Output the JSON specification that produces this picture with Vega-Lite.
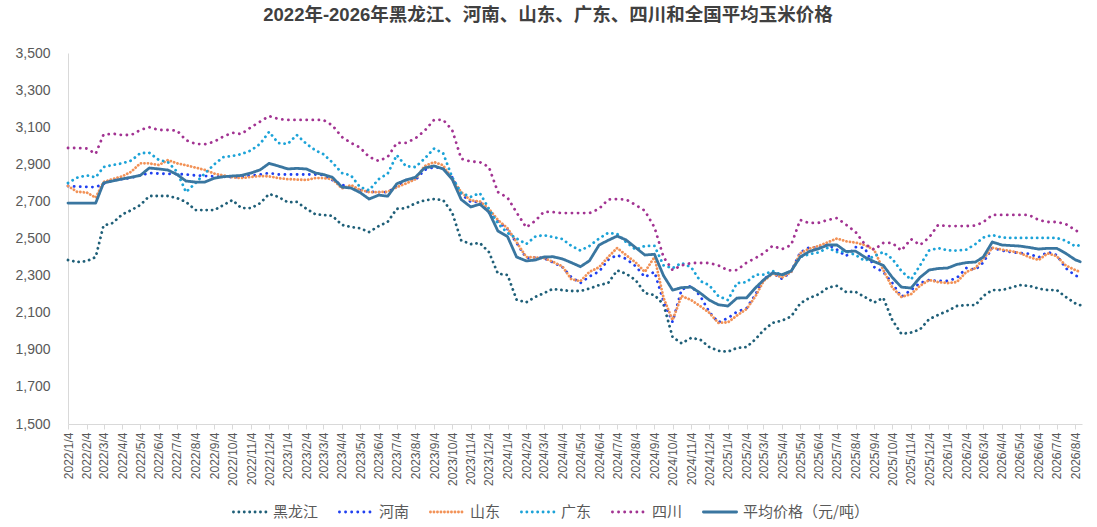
{
  "$schema": "https://vega.github.io/schema/vega-lite/v6.json",
  "autosize": {"type": "none"},
  "padding": {"left": 68, "top": 53, "right": 15, "bottom": 103},
  "width": 1014,
  "height": 371,
  "background": "white",
  "title": {"text": "2022年-2026年黑龙江、河南、山东、广东、四川和全国平均玉米价格", "fontSize": 18.5, "fontWeight": "bold", "color": "#404040", "anchor": "middle", "dx": -27, "offset": 22, "font": "'Liberation Sans', 'Noto Sans CJK SC', sans-serif"},
  "config": {
    "font": "'Liberation Sans', 'Noto Sans CJK SC', sans-serif",
    "view": {"stroke": null},
    "axis": {"grid": false, "domainColor": "#d9d9d9", "tickColor": "#d9d9d9", "labelColor": "#595959", "title": null},
    "legend": {"orient": "none", "legendX": 164, "legendY": 441, "direction": "horizontal", "symbolType": "stroke", "symbolSize": 1100, "labelFontSize": 15, "labelColor": "#595959", "columnPadding": 14, "labelOffset": 5, "title": null, "labelFont": "'Noto Sans CJK SC', sans-serif"}
  },
  "data": {"values": [
    {"d":"2022-01-04","黑龙江":2384,"河南":2783,"山东":2783,"广东":2799,"四川":2988,"平均价格（元/吨）":2691},
    {"d":"2022-01-19","黑龙江":2373,"河南":2780,"山东":2752,"广东":2828,"四川":2988,"平均价格（元/吨）":2691},
    {"d":"2022-02-04","黑龙江":2378,"河南":2778,"山东":2748,"广东":2840,"四川":2985,"平均价格（元/吨）":2691},
    {"d":"2022-02-19","黑龙江":2400,"河南":2777,"山东":2720,"广东":2830,"四川":2957,"平均价格（元/吨）":2691},
    {"d":"2022-03-04","黑龙江":2570,"河南":2795,"山东":2805,"广东":2885,"四川":3060,"平均价格（元/吨）":2799},
    {"d":"2022-03-19","黑龙江":2583,"河南":2815,"山东":2820,"广东":2896,"四川":3065,"平均价格（元/吨）":2810},
    {"d":"2022-04-04","黑龙江":2630,"河南":2820,"山东":2835,"广东":2905,"四川":3058,"平均价格（元/吨）":2821},
    {"d":"2022-04-19","黑龙江":2653,"河南":2828,"山东":2860,"广东":2920,"四川":3058,"平均价格（元/吨）":2830},
    {"d":"2022-05-04","黑龙江":2680,"河南":2840,"山东":2905,"广东":2960,"四川":3085,"平均价格（元/吨）":2840},
    {"d":"2022-05-19","黑龙江":2729,"河南":2853,"山东":2905,"广东":2962,"四川":3100,"平均价格（元/吨）":2880},
    {"d":"2022-06-04","黑龙江":2729,"河南":2850,"山东":2896,"广东":2923,"四川":3085,"平均价格（元/吨）":2875},
    {"d":"2022-06-19","黑龙江":2729,"河南":2848,"山东":2923,"广东":2912,"四川":3085,"平均价格（元/吨）":2869},
    {"d":"2022-07-04","黑龙江":2718,"河南":2848,"山东":2905,"广东":2860,"四川":3082,"平均价格（元/吨）":2845},
    {"d":"2022-07-19","黑龙江":2697,"河南":2845,"山东":2895,"广东":2750,"四川":3030,"平均价格（元/吨）":2810},
    {"d":"2022-08-04","黑龙江":2653,"河南":2840,"山东":2882,"广东":2800,"四川":3010,"平均价格（元/吨）":2804},
    {"d":"2022-08-19","黑龙江":2653,"河南":2837,"山东":2870,"广东":2850,"四川":3008,"平均价格（元/吨）":2804},
    {"d":"2022-09-04","黑龙江":2653,"河南":2835,"山东":2850,"广东":2900,"四川":3022,"平均价格（元/吨）":2825},
    {"d":"2022-09-19","黑龙江":2680,"河南":2833,"山东":2840,"广东":2939,"四川":3050,"平均价格（元/吨）":2833},
    {"d":"2022-10-04","黑龙江":2707,"河南":2831,"山东":2830,"广东":2945,"四川":3070,"平均价格（元/吨）":2837},
    {"d":"2022-10-19","黑龙江":2664,"河南":2831,"山东":2826,"广东":2955,"四川":3063,"平均价格（元/吨）":2840},
    {"d":"2022-11-04","黑龙江":2664,"河南":2840,"山东":2832,"广东":2975,"四川":3100,"平均价格（元/吨）":2853},
    {"d":"2022-11-19","黑龙江":2690,"河南":2845,"山东":2837,"广东":3010,"四川":3130,"平均价格（元/吨）":2870},
    {"d":"2022-12-04","黑龙江":2740,"河南":2853,"山东":2835,"广东":3075,"四川":3160,"平均价格（元/吨）":2905},
    {"d":"2022-12-19","黑龙江":2725,"河南":2845,"山东":2826,"广东":3015,"四川":3145,"平均价格（元/吨）":2891},
    {"d":"2023-01-04","黑龙江":2695,"河南":2845,"山东":2820,"广东":3010,"四川":3139,"平均价格（元/吨）":2875},
    {"d":"2023-01-19","黑龙江":2697,"河南":2845,"山东":2818,"广东":3058,"四川":3139,"平均价格（元/吨）":2878},
    {"d":"2023-02-04","黑龙江":2660,"河南":2845,"山东":2815,"广东":3010,"四川":3139,"平均价格（元/吨）":2875},
    {"d":"2023-02-19","黑龙江":2630,"河南":2845,"山东":2826,"广东":2975,"四川":3139,"平均价格（元/吨）":2853},
    {"d":"2023-03-04","黑龙江":2627,"河南":2842,"山东":2826,"广东":2955,"四川":3139,"平均价格（元/吨）":2845},
    {"d":"2023-03-19","黑龙江":2622,"河南":2815,"山东":2820,"广东":2910,"四川":3110,"平均价格（元/吨）":2830},
    {"d":"2023-04-04","黑龙江":2573,"河南":2790,"山东":2770,"广东":2853,"四川":3047,"平均价格（元/吨）":2777},
    {"d":"2023-04-19","黑龙江":2562,"河南":2770,"山东":2788,"广东":2840,"四川":3015,"平均价格（元/吨）":2772},
    {"d":"2023-05-04","黑龙江":2555,"河南":2762,"山东":2762,"广东":2777,"四川":2990,"平均价格（元/吨）":2748},
    {"d":"2023-05-19","黑龙江":2535,"河南":2752,"山东":2750,"广东":2760,"四川":2940,"平均价格（元/吨）":2713},
    {"d":"2023-06-04","黑龙江":2567,"河南":2750,"山东":2750,"广东":2820,"四川":2918,"平均价格（元/吨）":2734},
    {"d":"2023-06-19","黑龙江":2590,"河南":2750,"山东":2752,"广东":2850,"四川":2940,"平均价格（元/吨）":2728},
    {"d":"2023-07-04","黑龙江":2660,"河南":2780,"山东":2777,"广东":2950,"四川":3015,"平均价格（元/吨）":2795},
    {"d":"2023-07-19","黑龙江":2664,"河南":2815,"山东":2796,"广东":2890,"四川":3015,"平均价格（元/吨）":2815},
    {"d":"2023-08-04","黑龙江":2690,"河南":2815,"山东":2820,"广东":2885,"四川":3040,"平均价格（元/吨）":2830},
    {"d":"2023-08-19","黑龙江":2705,"河南":2870,"山东":2890,"广东":2930,"四川":3080,"平均价格（元/吨）":2880},
    {"d":"2023-09-04","黑龙江":2713,"河南":2885,"山东":2912,"广东":2985,"四川":3140,"平均价格（元/吨）":2891},
    {"d":"2023-09-19","黑龙江":2707,"河南":2878,"山东":2895,"广东":2960,"四川":3140,"平均价格（元/吨）":2875},
    {"d":"2023-10-04","黑龙江":2640,"河南":2830,"山东":2820,"广东":2830,"四川":3085,"平均价格（元/吨）":2820},
    {"d":"2023-10-19","黑龙江":2490,"河南":2740,"山东":2750,"广东":2745,"四川":2930,"平均价格（元/吨）":2710},
    {"d":"2023-11-04","黑龙江":2470,"河南":2697,"山东":2705,"广东":2725,"四川":2915,"平均价格（元/吨）":2670},
    {"d":"2023-11-19","黑龙江":2476,"河南":2697,"山东":2700,"广东":2745,"四川":2912,"平均价格（元/吨）":2685},
    {"d":"2023-12-04","黑龙江":2427,"河南":2640,"山东":2660,"广东":2660,"四川":2885,"平均价格（元/吨）":2643},
    {"d":"2023-12-19","黑龙江":2310,"河南":2592,"山东":2600,"广东":2580,"四川":2750,"平均价格（元/吨）":2540},
    {"d":"2024-01-04","黑龙江":2303,"河南":2550,"山东":2555,"广东":2530,"四川":2720,"平均价格（元/吨）":2510},
    {"d":"2024-01-19","黑龙江":2170,"河南":2476,"山东":2480,"广东":2500,"四川":2640,"平均价格（元/吨）":2400},
    {"d":"2024-02-04","黑龙江":2156,"河南":2395,"山东":2400,"广东":2470,"四川":2560,"平均价格（元/吨）":2379},
    {"d":"2024-02-19","黑龙江":2185,"河南":2398,"山东":2398,"广东":2510,"四川":2595,"平均价格（元/吨）":2384},
    {"d":"2024-03-04","黑龙江":2205,"河南":2395,"山东":2395,"广东":2518,"四川":2643,"平均价格（元/吨）":2400},
    {"d":"2024-03-19","黑龙江":2228,"河南":2372,"山东":2375,"广东":2508,"四川":2643,"平均价格（元/吨）":2402},
    {"d":"2024-04-04","黑龙江":2222,"河南":2346,"山东":2350,"广东":2497,"四川":2637,"平均价格（元/吨）":2390},
    {"d":"2024-04-19","黑龙江":2217,"河南":2292,"山东":2280,"广东":2460,"四川":2637,"平均价格（元/吨）":2370},
    {"d":"2024-05-04","黑龙江":2217,"河南":2260,"山东":2270,"广东":2435,"四川":2637,"平均价格（元/吨）":2348},
    {"d":"2024-05-19","黑龙江":2230,"河南":2295,"山东":2320,"广东":2460,"四川":2637,"平均价格（元/吨）":2380},
    {"d":"2024-06-04","黑龙江":2249,"河南":2322,"山东":2345,"广东":2500,"四川":2660,"平均价格（元/吨）":2465},
    {"d":"2024-06-19","黑龙江":2260,"河南":2385,"山东":2400,"广东":2530,"四川":2710,"平均价格（元/吨）":2490},
    {"d":"2024-07-04","黑龙江":2328,"河南":2411,"山东":2449,"广东":2525,"四川":2713,"平均价格（元/吨）":2513},
    {"d":"2024-07-19","黑龙江":2310,"河南":2390,"山东":2410,"广东":2480,"四川":2710,"平均价格（元/吨）":2492},
    {"d":"2024-08-04","黑龙江":2275,"河南":2350,"山东":2370,"广东":2440,"四川":2680,"平均价格（元/吨）":2450},
    {"d":"2024-08-19","黑龙江":2206,"河南":2292,"山东":2320,"广东":2460,"四川":2650,"平均价格（元/吨）":2411},
    {"d":"2024-09-04","黑龙江":2195,"河南":2320,"山东":2400,"广东":2460,"四川":2560,"平均价格（元/吨）":2415},
    {"d":"2024-09-19","黑龙江":2145,"河南":2160,"山东":2180,"广东":2355,"四川":2400,"平均价格（元/吨）":2300},
    {"d":"2024-10-04","黑龙江":1969,"河南":2050,"山东":2060,"广东":2340,"四川":2330,"平均价格（元/吨）":2222},
    {"d":"2024-10-19","黑龙江":1935,"河南":2225,"山东":2190,"广东":2368,"四川":2355,"平均价格（元/吨）":2235},
    {"d":"2024-11-04","黑龙江":1964,"河南":2244,"山东":2168,"广东":2345,"四川":2368,"平均价格（元/吨）":2238},
    {"d":"2024-11-19","黑龙江":1955,"河南":2190,"山东":2135,"广东":2271,"四川":2368,"平均价格（元/吨）":2206},
    {"d":"2024-12-04","黑龙江":1915,"河南":2104,"山东":2100,"广东":2248,"四川":2368,"平均价格（元/吨）":2168},
    {"d":"2024-12-19","黑龙江":1895,"河南":2048,"山东":2045,"广东":2190,"四川":2355,"平均价格（元/吨）":2143},
    {"d":"2025-01-04","黑龙江":1890,"河南":2071,"山东":2048,"广东":2168,"四川":2328,"平均价格（元/吨）":2136},
    {"d":"2025-01-19","黑龙江":1910,"河南":2105,"山东":2085,"广东":2260,"四川":2330,"平均价格（元/吨）":2179},
    {"d":"2025-02-04","黑龙江":1915,"河南":2125,"山东":2120,"广东":2265,"四川":2370,"平均价格（元/吨）":2180},
    {"d":"2025-02-19","黑龙江":1958,"河南":2200,"山东":2190,"广东":2305,"四川":2395,"平均价格（元/吨）":2235},
    {"d":"2025-03-04","黑龙江":2005,"河南":2280,"山东":2270,"广东":2305,"四川":2420,"平均价格（元/吨）":2276},
    {"d":"2025-03-19","黑龙江":2045,"河南":2314,"山东":2310,"广东":2325,"四川":2460,"平均价格（元/吨）":2314},
    {"d":"2025-04-04","黑龙江":2058,"河南":2282,"山东":2290,"广东":2303,"四川":2443,"平均价格（元/吨）":2305},
    {"d":"2025-04-19","黑龙江":2080,"河南":2322,"山东":2320,"广东":2325,"四川":2465,"平均价格（元/吨）":2325},
    {"d":"2025-05-04","黑龙江":2150,"河南":2425,"山东":2420,"广东":2400,"四川":2600,"平均价格（元/吨）":2400},
    {"d":"2025-05-19","黑龙江":2179,"河南":2452,"山东":2445,"广东":2415,"四川":2583,"平均价格（元/吨）":2430},
    {"d":"2025-06-04","黑龙江":2200,"河南":2452,"山东":2460,"广东":2425,"四川":2585,"平均价格（元/吨）":2445},
    {"d":"2025-06-19","黑龙江":2235,"河南":2465,"山东":2480,"广东":2450,"四川":2600,"平均价格（元/吨）":2465},
    {"d":"2025-07-04","黑龙江":2245,"河南":2440,"山东":2500,"广东":2427,"四川":2610,"平均价格（元/吨）":2465},
    {"d":"2025-07-19","黑龙江":2212,"河南":2405,"山东":2485,"广东":2430,"四川":2575,"平均价格（元/吨）":2430},
    {"d":"2025-08-04","黑龙江":2212,"河南":2454,"山东":2478,"广东":2411,"四川":2535,"平均价格（元/吨）":2432},
    {"d":"2025-08-19","黑龙江":2185,"河南":2450,"山东":2465,"广东":2380,"四川":2470,"平均价格（元/吨）":2400},
    {"d":"2025-09-04","黑龙江":2155,"河南":2346,"山东":2438,"广东":2405,"四川":2440,"平均价格（元/吨）":2375},
    {"d":"2025-09-19","黑龙江":2180,"河南":2319,"山东":2330,"广东":2427,"四川":2476,"平均价格（元/吨）":2355},
    {"d":"2025-10-04","黑龙江":2060,"河南":2260,"山东":2235,"广东":2390,"四川":2476,"平均价格（元/吨）":2290},
    {"d":"2025-10-19","黑龙江":1986,"河南":2185,"山东":2185,"广东":2325,"四川":2435,"平均价格（元/吨）":2238},
    {"d":"2025-11-04","黑龙江":1993,"河南":2222,"山东":2200,"广东":2278,"四川":2497,"平均价格（元/吨）":2233},
    {"d":"2025-11-19","黑龙江":2010,"河南":2260,"山东":2245,"广东":2355,"四川":2465,"平均价格（元/吨）":2290},
    {"d":"2025-12-04","黑龙江":2065,"河南":2276,"山东":2276,"广东":2435,"四川":2505,"平均价格（元/吨）":2330},
    {"d":"2025-12-19","黑龙江":2088,"河南":2271,"山东":2265,"广东":2448,"四川":2573,"平均价格（元/吨）":2338},
    {"d":"2026-01-04","黑龙江":2110,"河南":2271,"山东":2260,"广东":2436,"四川":2567,"平均价格（元/吨）":2341},
    {"d":"2026-01-19","黑龙江":2136,"河南":2287,"山东":2265,"广东":2435,"四川":2567,"平均价格（元/吨）":2360},
    {"d":"2026-02-04","黑龙江":2141,"河南":2341,"山东":2320,"广东":2440,"四川":2567,"平均价格（元/吨）":2370},
    {"d":"2026-02-19","黑龙江":2141,"河南":2332,"山东":2341,"广东":2470,"四川":2570,"平均价格（元/吨）":2373},
    {"d":"2026-03-04","黑龙江":2190,"河南":2370,"山东":2390,"广东":2505,"四川":2588,"平均价格（元/吨）":2400},
    {"d":"2026-03-19","黑龙江":2222,"河南":2450,"山东":2450,"广东":2519,"四川":2627,"平均价格（元/吨）":2481},
    {"d":"2026-04-04","黑龙江":2222,"河南":2435,"山东":2440,"广东":2505,"四川":2627,"平均价格（元/吨）":2465},
    {"d":"2026-04-19","黑龙江":2235,"河南":2427,"山东":2432,"广东":2503,"四川":2627,"平均价格（元/吨）":2462},
    {"d":"2026-05-04","黑龙江":2249,"河南":2422,"山东":2422,"广东":2503,"四川":2627,"平均价格（元/吨）":2459},
    {"d":"2026-05-19","黑龙江":2245,"河南":2418,"山东":2400,"广东":2503,"四川":2627,"平均价格（元/吨）":2452},
    {"d":"2026-06-04","黑龙江":2230,"河南":2398,"山东":2384,"广东":2503,"四川":2600,"平均价格（元/吨）":2443},
    {"d":"2026-06-19","黑龙江":2222,"河南":2427,"山东":2420,"广东":2503,"四川":2589,"平均价格（元/吨）":2447},
    {"d":"2026-07-04","黑龙江":2222,"河南":2411,"山东":2405,"广东":2503,"四川":2589,"平均价格（元/吨）":2447},
    {"d":"2026-07-19","黑龙江":2185,"河南":2340,"山东":2355,"广东":2488,"四川":2578,"平均价格（元/吨）":2420},
    {"d":"2026-08-04","黑龙江":2150,"河南":2300,"山东":2330,"广东":2458,"四川":2545,"平均价格（元/吨）":2385},
    {"d":"2026-08-12","黑龙江":2141,"河南":2292,"山东":2319,"广东":2465,"四川":2530,"平均价格（元/吨）":2375}
  ]},
  "transform": [
    {"fold": ["黑龙江", "河南", "山东", "广东", "四川", "平均价格（元/吨）"], "as": ["key", "value"]}
  ],
  "mark": {"type": "line", "strokeCap": "round", "strokeJoin": "round"},
  "encoding": {
    "x": {
      "field": "d", "type": "temporal",
      "scale": {"type": "utc", "domain": [{"year": 2022, "month": 1, "date": 4, "utc": true}, {"year": 2026, "month": 8, "date": 15, "utc": true}]},
      "axis": {
        "format": "%Y/%-m/%-d", "labelAngle": 270, "labelFontSize": 12, "labelPadding": 3, "tickSize": 5, "labelOverlap": false, "labelFlush": false,
        "values": [
          {"year":2022,"month":1,"date":4,"utc":true},{"year":2022,"month":2,"date":4,"utc":true},{"year":2022,"month":3,"date":4,"utc":true},{"year":2022,"month":4,"date":4,"utc":true},{"year":2022,"month":5,"date":4,"utc":true},{"year":2022,"month":6,"date":4,"utc":true},{"year":2022,"month":7,"date":4,"utc":true},{"year":2022,"month":8,"date":4,"utc":true},{"year":2022,"month":9,"date":4,"utc":true},{"year":2022,"month":10,"date":4,"utc":true},{"year":2022,"month":11,"date":4,"utc":true},{"year":2022,"month":12,"date":4,"utc":true},
          {"year":2023,"month":1,"date":4,"utc":true},{"year":2023,"month":2,"date":4,"utc":true},{"year":2023,"month":3,"date":4,"utc":true},{"year":2023,"month":4,"date":4,"utc":true},{"year":2023,"month":5,"date":4,"utc":true},{"year":2023,"month":6,"date":4,"utc":true},{"year":2023,"month":7,"date":4,"utc":true},{"year":2023,"month":8,"date":4,"utc":true},{"year":2023,"month":9,"date":4,"utc":true},{"year":2023,"month":10,"date":4,"utc":true},{"year":2023,"month":11,"date":4,"utc":true},{"year":2023,"month":12,"date":4,"utc":true},
          {"year":2024,"month":1,"date":4,"utc":true},{"year":2024,"month":2,"date":4,"utc":true},{"year":2024,"month":3,"date":4,"utc":true},{"year":2024,"month":4,"date":4,"utc":true},{"year":2024,"month":5,"date":4,"utc":true},{"year":2024,"month":6,"date":4,"utc":true},{"year":2024,"month":7,"date":4,"utc":true},{"year":2024,"month":8,"date":4,"utc":true},{"year":2024,"month":9,"date":4,"utc":true},{"year":2024,"month":10,"date":4,"utc":true},{"year":2024,"month":11,"date":4,"utc":true},{"year":2024,"month":12,"date":4,"utc":true},
          {"year":2025,"month":1,"date":4,"utc":true},{"year":2025,"month":2,"date":4,"utc":true},{"year":2025,"month":3,"date":4,"utc":true},{"year":2025,"month":4,"date":4,"utc":true},{"year":2025,"month":5,"date":4,"utc":true},{"year":2025,"month":6,"date":4,"utc":true},{"year":2025,"month":7,"date":4,"utc":true},{"year":2025,"month":8,"date":4,"utc":true},{"year":2025,"month":9,"date":4,"utc":true},{"year":2025,"month":10,"date":4,"utc":true},{"year":2025,"month":11,"date":4,"utc":true},{"year":2025,"month":12,"date":4,"utc":true},
          {"year":2026,"month":1,"date":4,"utc":true},{"year":2026,"month":2,"date":4,"utc":true},{"year":2026,"month":3,"date":4,"utc":true},{"year":2026,"month":4,"date":4,"utc":true},{"year":2026,"month":5,"date":4,"utc":true},{"year":2026,"month":6,"date":4,"utc":true},{"year":2026,"month":7,"date":4,"utc":true},{"year":2026,"month":8,"date":4,"utc":true}
        ]
      }
    },
    "y": {
      "field": "value", "type": "quantitative",
      "scale": {"domain": [1500, 3500], "nice": false, "zero": false},
      "axis": {"values": [1500, 1700, 1900, 2100, 2300, 2500, 2700, 2900, 3100, 3300, 3500], "format": ",.0f", "ticks": false, "labelFontSize": 14, "labelPadding": 18}
    },
    "color": {
      "field": "key", "type": "nominal", "title": null,
      "scale": {"domain": ["黑龙江", "河南", "山东", "广东", "四川", "平均价格（元/吨）"], "range": ["#1f5f78", "#2040f0", "#f29257", "#1ca3d8", "#a23392", "#3a76a0"]},
      "legend": {"encode": {"symbols": {"update": {"strokeCap": {"value": "round"}}}}}
    },
    "strokeDash": {
      "field": "key", "type": "nominal", "title": null,
      "scale": {"domain": ["黑龙江", "河南", "山东", "广东", "四川", "平均价格（元/吨）"], "range": [[0.1, 5.3], [0.1, 6], [0.1, 3.4], [0.1, 5.3], [0.1, 6], [1, 0]]},
      "legend": {"encode": {"symbols": {"update": {"strokeCap": {"value": "round"}}}}}
    },
    "strokeWidth": {
      "field": "key", "type": "nominal", "title": null,
      "scale": {"domain": ["黑龙江", "河南", "山东", "广东", "四川", "平均价格（元/吨）"], "range": [2.8, 2.8, 1.5, 2.8, 2.8, 3.2]},
      "legend": {"encode": {"symbols": {"update": {"strokeCap": {"value": "round"}}}}}
    }
  }
}
